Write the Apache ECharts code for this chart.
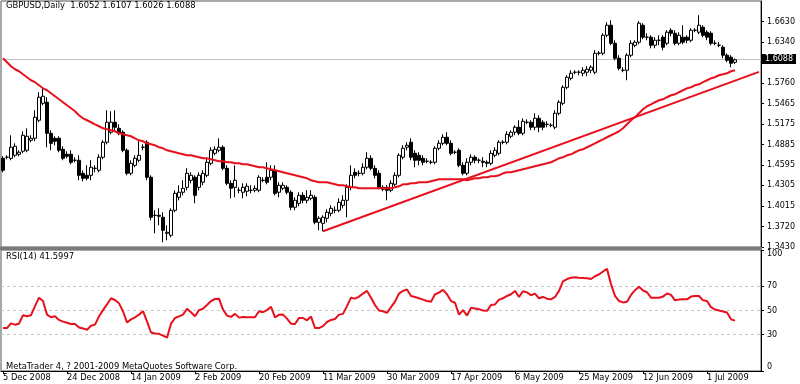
<!DOCTYPE html>
<html><head><meta charset="utf-8">
<script src="https://cdn.jsdelivr.net/npm/echarts@6/dist/echarts.min.js"></script>
<style>html,body{margin:0;padding:0;background:#fff}#c{width:800px;height:384px}</style>
</head><body><div id="c"></div>
<script>
const dateLabels = ['5 Dec 2008','24 Dec 2008','14 Jan 2009','2 Feb 2009','20 Feb 2009','11 Mar 2009','30 Mar 2009','17 Apr 2009','6 May 2009','25 May 2009','12 Jun 2009','1 Jul 2009'];
const priceTicks = [1.3430,1.3720,1.4015,1.4305,1.4595,1.4885,1.5175,1.5465,1.5760,1.6340,1.6630];
const rsiTicks = [0,30,50,70,100];
const rsiLevels = [30,50,70];

const opens = [1.4689,1.4704,1.4689,1.4732,1.4746,1.4789,1.4803,1.4945,1.4973,1.5229,
1.5470,1.5485,1.5044,1.4973,1.4973,1.4817,1.4746,1.4746,1.4661,1.4661,
1.4476,1.4448,1.4448,1.4547,1.4519,1.4704,1.4917,1.5059,1.5201,1.5115,
1.5059,1.4803,1.4476,1.4590,1.4661,1.4846,1.4917,1.4420,1.3880,1.3880,
1.3852,1.3624,1.3596,1.3951,1.4135,1.4207,1.4277,1.4377,1.4420,1.4277,
1.4349,1.4448,1.4618,1.4760,1.4803,1.4846,1.4547,1.4334,1.4277,1.4235,
1.4207,1.4221,1.4235,1.4235,1.4235,1.4377,1.4420,1.4420,1.4519,1.4207,
1.4263,1.4277,1.4207,1.3994,1.4050,1.4164,1.4093,1.4121,1.4135,1.3781,
1.3766,1.3838,1.3908,1.3951,1.3951,1.4022,1.4093,1.4277,1.4491,1.4476,
1.4476,1.4562,1.4689,1.4547,1.4476,1.4249,1.4277,1.4235,1.4320,1.4448,
1.4704,1.4846,1.4917,1.4760,1.4732,1.4689,1.4647,1.4633,1.4633,1.4831,
1.4902,1.4988,1.4902,1.4775,1.4803,1.4590,1.4476,1.4633,1.4704,1.4661,
1.4647,1.4633,1.4618,1.4732,1.4760,1.4917,1.4917,1.5002,1.5059,1.5130,
1.5044,1.5201,1.5201,1.5130,1.5257,1.5201,1.5172,1.5158,1.5130,1.5328,
1.5470,1.5697,1.5825,1.5911,1.5911,1.5896,1.5911,1.5939,1.5911,1.6180,
1.6180,1.6436,1.6578,1.6322,1.6109,1.5939,1.5939,1.6152,1.6294,1.6337,
1.6578,1.6408,1.6408,1.6294,1.6365,1.6408,1.6322,1.6507,1.6464,1.6322,
1.6408,1.6408,1.6365,1.6507,1.6479,1.6550,1.6479,1.6464,1.6322,1.6294,
1.6266,1.6152,1.6124,1.6052];

const closes = [1.4519,1.4704,1.4846,1.4860,1.4775,1.5016,1.5002,1.4973,1.5272,1.5556,
1.5570,1.5044,1.4902,1.4931,1.4803,1.4689,1.4718,1.4633,1.4661,1.4448,
1.4405,1.4405,1.4562,1.4547,1.4704,1.4917,1.5201,1.5201,1.5130,1.5044,
1.4803,1.4476,1.4618,1.4689,1.4732,1.4846,1.4420,1.3852,1.3880,1.3866,
1.3667,1.3639,1.3951,1.4192,1.4207,1.4263,1.4476,1.4448,1.4164,1.4448,
1.4476,1.4633,1.4803,1.4817,1.4846,1.4547,1.4334,1.4263,1.4377,1.4235,
1.4277,1.4292,1.4235,1.4263,1.4420,1.4377,1.4349,1.4519,1.4192,1.4306,
1.4306,1.4207,1.3994,1.4093,1.4164,1.4093,1.4135,1.4164,1.3781,1.3838,
1.3852,1.3923,1.3979,1.3951,1.4065,1.4093,1.4277,1.4448,1.4448,1.4476,
1.4562,1.4689,1.4547,1.4448,1.4277,1.4277,1.4235,1.4334,1.4448,1.4732,
1.4831,1.4874,1.4704,1.4661,1.4661,1.4633,1.4647,1.4633,1.4831,1.4902,
1.4988,1.4902,1.4760,1.4775,1.4590,1.4476,1.4633,1.4704,1.4661,1.4661,
1.4633,1.4618,1.4760,1.4803,1.4917,1.4917,1.5030,1.5059,1.5130,1.5044,
1.5215,1.5201,1.5130,1.5257,1.5130,1.5130,1.5172,1.5158,1.5328,1.5485,
1.5697,1.5839,1.5896,1.5911,1.5911,1.5939,1.5953,1.5982,1.6180,1.6180,
1.6436,1.6578,1.6322,1.6109,1.5967,1.5939,1.6152,1.6322,1.6337,1.6607,
1.6408,1.6408,1.6294,1.6365,1.6365,1.6266,1.6479,1.6464,1.6322,1.6436,
1.6337,1.6365,1.6507,1.6507,1.6578,1.6436,1.6408,1.6322,1.6322,1.6294,
1.6152,1.6081,1.6038,1.6088];

const lows = [1.4491,1.4675,1.4661,1.4704,1.4718,1.4760,1.4775,1.4917,1.4931,1.5201,
1.5442,1.4846,1.4803,1.4874,1.4775,1.4661,1.4689,1.4604,1.4633,1.4377,
1.4363,1.4377,1.4377,1.4491,1.4491,1.4675,1.4888,1.5030,1.5087,1.5016,
1.4775,1.4448,1.4448,1.4562,1.4633,1.4803,1.4377,1.3809,1.3624,1.3738,
1.3497,1.3525,1.3568,1.3923,1.4093,1.4164,1.4235,1.4334,1.4050,1.4235,
1.4306,1.4420,1.4590,1.4732,1.4775,1.4519,1.4306,1.4121,1.4135,1.4192,
1.4121,1.4150,1.4192,1.4207,1.4207,1.4349,1.4320,1.4377,1.4164,1.4135,
1.4235,1.4178,1.3951,1.3951,1.4008,1.4050,1.4050,1.4093,1.3752,1.3667,
1.3653,1.3781,1.3866,1.3908,1.3923,1.3979,1.3852,1.4235,1.4405,1.4434,
1.4448,1.4533,1.4519,1.4405,1.4249,1.4221,1.4093,1.4207,1.4292,1.4420,
1.4675,1.4803,1.4661,1.4562,1.4590,1.4590,1.4618,1.4604,1.4604,1.4803,
1.4874,1.4874,1.4732,1.4746,1.4562,1.4448,1.4448,1.4590,1.4618,1.4618,
1.4562,1.4562,1.4590,1.4704,1.4732,1.4888,1.4888,1.4973,1.5016,1.5016,
1.5016,1.5172,1.5087,1.5087,1.5059,1.5087,1.5130,1.5130,1.5101,1.5300,
1.5442,1.5669,1.5797,1.5882,1.5868,1.5854,1.5854,1.5896,1.5882,1.6152,
1.6152,1.6408,1.6294,1.6081,1.5939,1.5911,1.5797,1.6124,1.6266,1.6308,
1.6379,1.6365,1.6251,1.6251,1.6294,1.6223,1.6294,1.6422,1.6294,1.6294,
1.6308,1.6322,1.6337,1.6479,1.6450,1.6408,1.6365,1.6294,1.6294,1.6266,
1.6109,1.6053,1.5982,1.6026];

const highs = [1.4718,1.4732,1.5016,1.4902,1.4803,1.5073,1.5115,1.5016,1.5371,1.5627,
1.5683,1.5556,1.5087,1.5002,1.5002,1.4860,1.4789,1.4803,1.4704,1.4732,
1.4519,1.4590,1.4661,1.4590,1.4746,1.4945,1.5371,1.5357,1.5371,1.5172,
1.5087,1.4831,1.4661,1.4732,1.4945,1.4888,1.4945,1.4448,1.3951,1.3979,
1.3923,1.3738,1.3979,1.4235,1.4306,1.4377,1.4547,1.4491,1.4448,1.4491,
1.4519,1.4689,1.4846,1.4860,1.4973,1.4874,1.4590,1.4377,1.4590,1.4277,
1.4334,1.4334,1.4306,1.4306,1.4448,1.4420,1.4633,1.4590,1.4590,1.4349,
1.4349,1.4306,1.4235,1.4135,1.4207,1.4207,1.4235,1.4235,1.4164,1.3866,
1.3880,1.3965,1.4022,1.4008,1.4121,1.4164,1.4320,1.4590,1.4547,1.4519,
1.4618,1.4775,1.4732,1.4590,1.4519,1.4306,1.4306,1.4377,1.4491,1.4760,
1.4874,1.4917,1.4973,1.4803,1.4775,1.4732,1.4689,1.4661,1.4860,1.4945,
1.5030,1.5059,1.4945,1.4803,1.4831,1.4633,1.4689,1.4746,1.4732,1.4689,
1.4704,1.4661,1.4803,1.4846,1.4945,1.4945,1.5073,1.5087,1.5158,1.5229,
1.5257,1.5243,1.5229,1.5328,1.5300,1.5229,1.5215,1.5186,1.5371,1.5513,
1.5726,1.5868,1.5939,1.5939,1.5939,1.5982,1.5996,1.6010,1.6223,1.6209,
1.6464,1.6621,1.6649,1.6365,1.6152,1.5982,1.6180,1.6365,1.6365,1.6635,
1.6607,1.6464,1.6436,1.6408,1.6436,1.6436,1.6507,1.6535,1.6507,1.6479,
1.6578,1.6436,1.6535,1.6535,1.6720,1.6578,1.6507,1.6493,1.6365,1.6337,
1.6294,1.6180,1.6152,1.6107];

const maValues = [1.6109,1.6053,1.5996,1.5953,1.5925,1.5882,1.5840,1.5797,1.5769,1.5726,
1.5683,1.5655,1.5612,1.5570,1.5527,1.5485,1.5442,1.5400,1.5357,1.5300,
1.5257,1.5229,1.5201,1.5172,1.5144,1.5115,1.5101,1.5087,1.5073,1.5044,
1.5030,1.5016,1.5002,1.4973,1.4945,1.4931,1.4902,1.4888,1.4874,1.4846,
1.4831,1.4803,1.4789,1.4775,1.4760,1.4746,1.4732,1.4732,1.4718,1.4704,
1.4689,1.4689,1.4675,1.4661,1.4647,1.4647,1.4633,1.4633,1.4618,1.4618,
1.4604,1.4604,1.4590,1.4576,1.4562,1.4562,1.4547,1.4533,1.4519,1.4505,
1.4491,1.4476,1.4462,1.4448,1.4434,1.4420,1.4405,1.4377,1.4363,1.4349,
1.4349,1.4349,1.4334,1.4320,1.4306,1.4306,1.4292,1.4277,1.4277,1.4263,
1.4263,1.4263,1.4263,1.4263,1.4263,1.4263,1.4263,1.4263,1.4277,1.4292,
1.4320,1.4320,1.4334,1.4334,1.4349,1.4349,1.4349,1.4363,1.4377,1.4391,
1.4391,1.4391,1.4391,1.4391,1.4391,1.4391,1.4377,1.4391,1.4405,1.4405,
1.4420,1.4420,1.4434,1.4434,1.4448,1.4476,1.4491,1.4491,1.4505,1.4519,
1.4533,1.4547,1.4562,1.4576,1.4590,1.4604,1.4618,1.4633,1.4661,1.4689,
1.4704,1.4732,1.4746,1.4775,1.4803,1.4817,1.4846,1.4874,1.4902,1.4931,
1.4959,1.4988,1.5016,1.5044,1.5073,1.5115,1.5172,1.5229,1.5272,1.5328,
1.5385,1.5428,1.5456,1.5485,1.5513,1.5527,1.5556,1.5584,1.5598,1.5627,
1.5655,1.5683,1.5697,1.5726,1.5740,1.5769,1.5797,1.5825,1.5840,1.5868,
1.5882,1.5896,1.5925,1.5939];

const rsiValues = [35.5,35.5,39.4,38.3,39.1,46.1,45.2,46.1,53.6,60.6,
57.8,46.6,44.4,45.2,42.2,40.8,39.9,38.8,38.8,36.0,
35.2,34.1,37.4,38.3,45.2,50.3,55.0,60.1,58.7,55.9,
49.4,40.2,42.7,44.4,46.6,49.4,41.0,31.8,31.0,30.7,
29.3,27.6,39.1,43.8,45.2,46.6,51.4,48.6,45.2,50.3,
51.4,54.5,57.8,59.5,59.8,50.8,45.8,44.7,47.2,44.1,
44.7,44.4,44.4,44.4,49.4,48.6,50.3,53.1,44.4,46.4,
46.6,43.3,39.1,38.8,43.8,43.8,41.9,45.0,35.5,35.5,
37.1,40.5,42.2,43.0,46.6,47.2,53.6,60.6,59.8,61.5,
64.0,66.2,60.6,54.5,50.0,49.4,48.0,52.8,57.3,64.0,
66.2,67.3,62.0,61.2,60.1,59.0,57.8,57.3,63.4,64.8,
67.1,63.4,57.8,56.4,46.6,50.3,45.8,52.2,51.7,51.1,
50.0,49.7,54.5,55.0,59.0,60.1,62.0,63.4,66.2,61.2,
65.9,65.0,62.6,64.0,60.1,61.2,59.8,59.2,61.2,66.2,
74.1,76.0,77.1,77.4,77.1,76.9,76.6,76.0,78.3,79.9,
82.2,84.4,71.8,62.0,57.8,56.7,57.3,62.9,66.8,69.6,
66.5,65.1,60.6,60.6,60.6,61.5,64.0,62.9,58.4,59.0,
59.2,59.2,61.5,62.0,62.0,58.4,57.8,52.8,50.8,50.0,
49.2,48.3,42.7,41.6];

// trend line anchor points: [bar index, price]
const trendStart = [80, 1.3653];
const trendEnd = [189, 1.5916];

const SLOTS = 190; // bars + empty space at the right
const LABEL_STEP = 16;
const cats = [];
for (let i = 0; i < SLOTS; i++) {
  cats.push(i % LABEL_STEP === 0 && (i / LABEL_STEP) < dateLabels.length ? dateLabels[i / LABEL_STEP] : '');
}
const candles = opens.map((o, i) => [o, closes[i], lows[i], highs[i]]);
const last = opens.length - 1;
const FONT = 'DejaVu Sans';
const RED = '#e8101c';

const chart = echarts.init(document.getElementById('c'), null, {renderer: 'canvas'});
chart.setOption({
  animation: false,
  backgroundColor: '#ffffff',
  textStyle: {fontFamily: FONT},
  title: [
    {text: 'GBPUSD,Daily  ' + [opens[last], highs[last], lows[last], closes[last]].map(v => v.toFixed(4)).join(' '),
     left: 6, top: 2, padding: 0, textStyle: {fontSize: 8.4, fontWeight: 'normal', color: '#000', fontFamily: FONT}},
    {text: 'RSI(14) 41.5997', left: 6, top: 253, padding: 0,
     textStyle: {fontSize: 8.4, fontWeight: 'normal', color: '#000', fontFamily: FONT}},
    {text: 'MetaTrader 4, ? 2001-2009 MetaQuotes Software Corp.', left: 6, top: 363, padding: 0,
     textStyle: {fontSize: 8.4, fontWeight: 'normal', color: '#000', fontFamily: FONT}}
  ],
  grid: [
    {left: 1, top: 1, width: 760, height: 246, show: true, borderColor: '#505050', borderWidth: 1, backgroundColor: '#fff'},
    {left: 1, top: 250, width: 760, height: 121, show: true, borderColor: '#505050', borderWidth: 1, backgroundColor: '#fff'}
  ],
  graphic: [
    {type: 'rect', shape: {x: 0, y: 247, width: 762, height: 3}, style: {fill: '#7a7a7a'}, z: 100}
  ],
  xAxis: [
    {type: 'category', gridIndex: 0, data: cats, boundaryGap: true,
     axisLine: {show: false}, axisTick: {show: false}, axisLabel: {show: false}, splitLine: {show: false}},
    {type: 'category', gridIndex: 1, data: cats, boundaryGap: true,
     axisLine: {show: true, lineStyle: {color: '#000', width: 1}},
     axisTick: {show: true, alignWithLabel: true, length: 3, interval: (i) => i % LABEL_STEP === 0, lineStyle: {color: '#000'}},
     axisLabel: {show: true, interval: (i) => i % LABEL_STEP === 0, align: 'left', margin: 3,
       fontSize: 8.3, color: '#000', fontFamily: FONT},
     splitLine: {show: false}}
  ],
  yAxis: [
    {type: 'value', gridIndex: 0, position: 'right', min: 1.3430, max: 1.6922, scale: true,
     splitLine: {show: false},
     axisLine: {show: true, lineStyle: {color: '#000'}},
     axisTick: {show: true, length: 3, customValues: priceTicks, lineStyle: {color: '#000'}},
     axisLabel: {show: true, customValues: priceTicks, formatter: (v) => v.toFixed(4), margin: 6,
       fontSize: 8, color: '#000', fontFamily: FONT}},
    {type: 'value', gridIndex: 1, position: 'right', min: 0, max: 100,
     splitLine: {show: false},
     axisLine: {show: true, lineStyle: {color: '#000'}},
     axisTick: {show: true, length: 3, customValues: rsiTicks, lineStyle: {color: '#000'}},
     axisLabel: {show: true, customValues: rsiTicks, margin: 6, fontSize: 8, color: '#000', fontFamily: FONT,
       verticalAlignMaxLabel: 'top', verticalAlignMinLabel: 'bottom'}}
  ],
  series: [
    {type: 'candlestick', name: 'GBPUSD', xAxisIndex: 0, yAxisIndex: 0, data: candles, barWidth: 3,
     itemStyle: {color: '#fff', color0: '#000', borderColor: '#000', borderColor0: '#000', borderColorDoji: '#000', borderWidth: 1},
     markLine: {silent: true, symbol: ['none', 'none'], z: 1,
       lineStyle: {color: '#c0c0c0', type: 'solid', width: 1},
       label: {show: true, position: 'end', distance: 1, formatter: () => closes[last].toFixed(4),
         backgroundColor: '#000', color: '#fff', fontSize: 8, padding: [1, 3, 1, 3], fontFamily: FONT},
       data: [{yAxis: closes[last]}]}},
    {type: 'line', name: 'MA', xAxisIndex: 0, yAxisIndex: 0, data: maValues, symbol: 'none', z: 5,
     lineStyle: {color: RED, width: 2}},
    {type: 'line', name: 'Trend', xAxisIndex: 0, yAxisIndex: 0, data: [trendStart, trendEnd], symbol: 'none', z: 5,
     lineStyle: {color: RED, width: 2}},
    {type: 'line', name: 'RSI', xAxisIndex: 1, yAxisIndex: 1, data: rsiValues, symbol: 'none', z: 5,
     lineStyle: {color: RED, width: 2},
     markLine: {silent: true, symbol: ['none', 'none'], z: 1, label: {show: false},
       lineStyle: {color: '#c8c8c8', type: [3, 3], width: 1},
       data: rsiLevels.map(v => ({yAxis: v}))}}
  ]
});
</script>
</body></html>
